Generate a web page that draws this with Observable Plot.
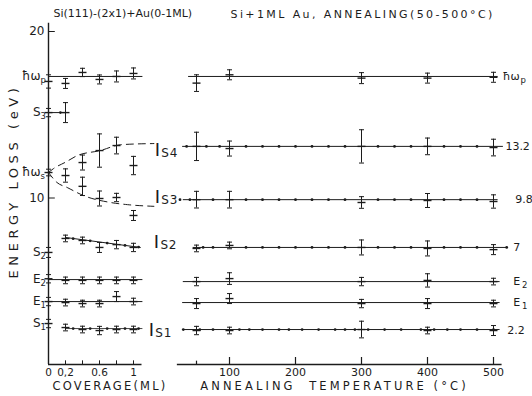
<!DOCTYPE html>
<html>
<head>
<meta charset="utf-8">
<script src="https://cdn.jsdelivr.net/npm/d3@7"></script>
<script src="https://cdn.jsdelivr.net/npm/@observablehq/plot@0.6"></script>
<style>
  body { margin: 0; background: #fff; }
  #wrap { position: relative; width: 532px; height: 396px; overflow: hidden; background: #fff; }
  #wrap svg { position: absolute; top: 0; }
</style>
</head>
<body>
<div id="wrap"></div>
<script>
// ---------- texts ----------
const titleLeft = "Si(111)-(2x1)+Au(0-1ML)";
const titleRight = "Si+1ML Au, ANNEALING(50-500°C)";
const yName = "ENERGY LOSS (eV)";
const xNameLeft = "COVERAGE(ML)";
const xNameRight = "ANNEALING  TEMPERATURE (°C)";

// ---------- energy axis ----------
const yTicks = [10, 20];
const yAxisTop = 20.5;
const levelNames = ["ħω", "S", "ħω", "S", "E", "E", "S"];
const levelSubs = ["p", "3", "s", "2", "2", "1", "1"];
const levelValues = [17.3, 15.13, 11.53, 6.73, 5.1, 3.78, 2.46];

// ---------- coverage panel ----------
const coverageExtent = [0, 1.1];
const coverageTicks = [0, 0.2, 0.4, 0.6, 0.8, 1];
const coverageLabelAt = [0, 0.2, 0.6, 1];
const coverageLabels = ["0", "0,2", "0.6", "1"];

const coverage = [0, 0.2, 0.4, 0.6, 0.8, 1.0];
const covWp = [17.0, 16.88, 17.54, 17.12, 17.3, 17.48];
const covWpErr = [0.4, 0.3, 0.25, 0.27, 0.33, 0.33];
const covS3X = [0, 0.2];
const covS3 = [15.13, 15.13];
const covS3Err = [0.25, 0.6];
const covWsX = [0];
const covWs = [11.53];
const covWsErr = [0.2];
const covIS4X = [0.2, 0.4, 0.6, 0.8, 1.0];
const covIS4 = [11.35, 12.13, 12.85, 13.15, 11.95];
const covIS4Err = [0.4, 0.45, 1.0, 0.5, 0.55];
const covIS3X = [0.4, 0.6, 0.8, 1.0];
const covIS3 = [10.7, 9.97, 10.03, 8.95];
const covIS3Err = [0.55, 0.45, 0.25, 0.3];
const covS2 = [6.73, 7.57, 7.45, 7.03, 7.2, 7.03];
const covS2Err = [0.3, 0.2, 0.2, 0.3, 0.25, 0.25];
const covE2 = [5.15, 5.05, 5.05, 5.05, 5.05, 5.05];
const covE2Err = [0.25, 0.2, 0.2, 0.2, 0.2, 0.2];
const covE1 = [3.78, 3.72, 3.66, 3.66, 4.08, 3.78];
const covE1Err = [0.25, 0.2, 0.2, 0.2, 0.3, 0.2];
const covS1 = [2.46, 2.22, 2.1, 2.04, 2.1, 2.1];
const covS1Err = [0.25, 0.2, 0.2, 0.25, 0.2, 0.2];

// guide lines (coverage panel)
const covWpLineX = [0, 1.1], covWpLineY = [17.3, 17.3];
const covS3LineX = [0, 0.2], covS3LineY = [15.13, 15.13];
const covIS4CurveX = [0, 0.06, 0.2, 0.34, 0.61, 0.85, 1.24];
const covIS4CurveY = [11.53, 11.77, 12.15, 12.55, 12.85, 13.2, 13.27];
const covIS3CurveX = [0, 0.1, 0.22, 0.41, 0.73, 0.93, 1.24];
const covIS3CurveY = [11.53, 10.93, 10.63, 10.15, 9.73, 9.6, 9.5];
const covS2LineX = [0.2, 1.08], covS2LineY = [7.63, 7.03];
const covE2LineX = [0, 1.1], covE2LineY = [5.1, 5.1];
const covE1LineX = [0, 1.1], covE1LineY = [3.78, 3.78];
const covS1LineX = [0.2, 1.1], covS1LineY = [2.16, 2.16];
const covS3DotX = [0.14], covS3DotY = [15.13];
const covS2DotX = [0.29, 0.49, 0.69, 0.9, 1.06], covS2DotY = [7.56, 7.43, 7.29, 7.15, 7.05];
const covS1DotX = [0.29, 0.49, 0.69, 0.9, 1.06], covS1DotY = [2.16, 2.16, 2.16, 2.16, 2.16];

// I_S labels between panels
const isNames = ["I", "I", "I", "I"];
const isSubs = ["S4", "S3", "S2", "S1"];
const isAt = [1.28, 1.28, 1.27, 1.21];
const isLevel = [12.88, 10.06, 7.33, 2.04];

// ---------- annealing panel ----------
const tempExtent = [21, 513];
const tempTicks = [50, 100, 200, 300, 400, 500];
const tempTickLen = [0.2, 0.42, 0.42, 0.42, 0.42, 0.42];
const tempLabels = [100, 200, 300, 400, 500];
const temps = [50, 100, 300, 400, 500];
const annWp = [16.9, 17.4, 17.2, 17.2, 17.25];
const annWpErr = [0.5, 0.3, 0.33, 0.3, 0.3];
const annIS4 = [13.1, 12.97, 13.1, 13.1, 13.03];
const annIS4Err = [0.85, 0.45, 1.0, 0.5, 0.5];
const annIS3 = [9.9, 9.9, 9.73, 9.85, 9.79];
const annIS3Err = [0.5, 0.5, 0.35, 0.42, 0.4];
const annIS2 = [6.97, 7.15, 7.03, 6.97, 6.9];
const annIS2Err = [0.2, 0.2, 0.45, 0.45, 0.3];
const annE2 = [4.98, 5.16, 4.98, 5.05, 4.98];
const annE2Err = [0.25, 0.35, 0.25, 0.4, 0.2];
const annE1 = [3.66, 3.96, 3.66, 3.66, 3.66];
const annE1Err = [0.3, 0.3, 0.25, 0.3, 0.2];
const annIS1 = [2.04, 2.04, 2.1, 2.04, 2.04];
const annIS1Err = [0.25, 0.2, 0.5, 0.2, 0.3];

const annLevels = [17.3, 13.1, 9.9, 7.03, 4.98, 3.72, 2.1];
const annLineStart = [38, 29, 30, 45, 30, 29, 30];
const annLineEnd = [507, 515, 507, 520, 510, 510, 510];
const annLabelText = ["ħω", "13.2", "9.8", "7", "E", "E", "2.2"];
const annLabelAt = [514, 518, 533, 530, 530, 530, 521];
const annLabelLevel = [17.3, 13.1, 9.9, 7.0, 4.98, 3.72, 2.05];
const annSubText = ["p", "2", "1"];
const annSubAt = [541, 543, 543];
const annSubLevel = [17.3, 4.98, 3.72];

const annIS4Dots = [35, 65, 85, 125, 150, 175, 200, 225, 250, 275, 325, 350, 375, 425, 450, 475];
const annIS3Dots = [25, 40, 75, 125, 150, 175, 200, 225, 250, 275, 325, 350, 375, 425, 450, 475];
const annIS2Dots = [60, 75, 125, 150, 175, 200, 225, 250, 275, 325, 350, 375, 425, 450, 475, 520];
const annIS1Dots = [30, 55, 75, 115, 130, 150, 175, 190, 210, 235, 260, 275, 290, 310, 335, 360, 390, 410, 430, 450, 475, 500];

// ---------- helpers ----------
const ink = "#1c1c1c";
const FONT = "'DejaVu Sans', sans-serif";
const hbar = { draw(ctx, size) { const r = Math.sqrt(size / Math.PI); ctx.moveTo(-r, 0); ctx.lineTo(r, 0); } };
const pts = (xs, vs, es) => xs.map((x, i) => ({ x, v: vs[i], e: es ? es[i] : 0 }));

function errorBars(xs, vs, es) {
  const data = pts(xs, vs, es);
  return [
    Plot.ruleX(data, { x: "x", y1: d => d.v - d.e, y2: d => d.v + d.e, stroke: ink, strokeWidth: 1 }),
    Plot.dot(data, { x: "x", y: d => d.v - d.e, symbol: hbar, r: 2.5, stroke: ink, fill: "none", strokeWidth: 1 }),
    Plot.dot(data, { x: "x", y: d => d.v + d.e, symbol: hbar, r: 2.5, stroke: ink, fill: "none", strokeWidth: 1 }),
    Plot.dot(data, { x: "x", y: "v", symbol: hbar, r: 4, stroke: ink, fill: "none", strokeWidth: 1.4 })
  ];
}
const seg = (xs, ys, opts = {}) => Plot.line(pts(xs, ys), { x: "x", y: "v", stroke: ink, strokeWidth: 1, ...opts });
const dots = (xs, ys) => Plot.dot(pts(xs, ys), { x: "x", y: "v", r: 1.4, fill: ink, stroke: "none" });

const common = {
  height: 396, marginTop: 31, marginBottom: 32,
  y: { domain: [0, 20], axis: null },
  style: { background: "transparent", overflow: "visible", fontFamily: FONT, color: ink }
};

// ---------- left panel ----------
const levelData = levelNames.map((n, i) => ({ n, s: levelSubs[i], v: levelValues[i] }));
const isData = isNames.map((n, i) => ({ n, s: isSubs[i], x: isAt[i], v: isLevel[i] }));
const covLabelData = coverageLabelAt.map((x, i) => ({ x, t: coverageLabels[i] }));

const left = Plot.plot({
  ...common,
  width: 180, marginLeft: 48, marginRight: 47,
  x: { domain: [0, 1], axis: null },
  marks: [
    Plot.ruleX([0], { y1: 0, y2: yAxisTop, stroke: ink, strokeWidth: 1.4 }),
    Plot.ruleY([0], { x1: coverageExtent[0], x2: coverageExtent[1], stroke: ink, strokeWidth: 1.4 }),
    Plot.ruleX(coverageTicks, { x: d => d, y1: 0, y2: 0.22, stroke: ink }),
    Plot.text(covLabelData, { x: "x", y: 0, text: "t", dy: 8, lineAnchor: "middle", fontSize: 10.5 }),
    Plot.ruleY(yTicks, { y: d => d, x1: 0, x2: 0.08, stroke: ink }),
    Plot.text(yTicks, { x: 0, y: d => d, text: d => String(d), textAnchor: "end", dx: -4, fontSize: 12, lineAnchor: "middle" }),
    Plot.text(levelData, { x: 0, y: "v", text: "n", textAnchor: "end", dx: -8, fontSize: 12, lineAnchor: "middle" }),
    Plot.text(levelData, { x: 0, y: "v", text: "s", textAnchor: "start", dx: -8, dy: 4, fontSize: 8.5, lineAnchor: "middle" }),
    // guide lines
    seg(covWpLineX, covWpLineY),
    seg(covS3LineX, covS3LineY),
    seg(covIS4CurveX, covIS4CurveY, { curve: "monotone-x", strokeDasharray: "7,5" }),
    seg(covIS3CurveX, covIS3CurveY, { curve: "monotone-x", strokeDasharray: "7,5" }),
    seg(covS2LineX, covS2LineY),
    seg(covE2LineX, covE2LineY),
    seg(covE1LineX, covE1LineY),
    seg(covS1LineX, covS1LineY, { strokeWidth: 0.8 }),
    dots(covS3DotX, covS3DotY),
    dots(covS2DotX, covS2DotY),
    dots(covS1DotX, covS1DotY),
    // data
    ...errorBars(coverage, covWp, covWpErr),
    ...errorBars(covS3X, covS3, covS3Err),
    ...errorBars(covWsX, covWs, covWsErr),
    ...errorBars(covIS4X, covIS4, covIS4Err),
    ...errorBars(covIS3X, covIS3, covIS3Err),
    ...errorBars(coverage, covS2, covS2Err),
    ...errorBars(coverage, covE2, covE2Err),
    ...errorBars(coverage, covE1, covE1Err),
    ...errorBars(coverage, covS1, covS1Err),
    // I_S labels
    Plot.text(isData, { x: "x", y: "v", text: "n", fontSize: 18, lineAnchor: "middle" }),
    Plot.text(isData, { x: "x", y: "v", text: "s", textAnchor: "start", dx: 4, dy: 3, fontSize: 12, lineAnchor: "middle" }),
    // titles
    Plot.text([titleLeft], { frameAnchor: "top-left", dx: 5, dy: -18, textAnchor: "start", lineAnchor: "middle", fontSize: 11 }),
    Plot.text([xNameLeft], { frameAnchor: "bottom", dx: 19, dy: 22, textAnchor: "middle", lineAnchor: "middle", fontSize: 11.5 }),
    Plot.text([yName], { frameAnchor: "left", dx: -35, dy: -17, rotate: -90, textAnchor: "middle", lineAnchor: "middle", fontSize: 13 })
  ]
});

// ---------- right panel ----------
const annLineData = annLevels.map((v, i) => ({ v, a: annLineStart[i], b: annLineEnd[i] }));
const annLabelData = annLabelText.map((t, i) => ({ t, x: annLabelAt[i], v: annLabelLevel[i] }));
const annSubData = annSubText.map((t, i) => ({ t, x: annSubAt[i], v: annSubLevel[i] }));

const right = Plot.plot({
  ...common,
  width: 362, marginLeft: 59, marginRight: 39,
  x: { domain: [100, 500], axis: null },
  marks: [
    Plot.ruleY([0], { x1: tempExtent[0], x2: tempExtent[1], stroke: ink, strokeWidth: 1.4 }),
    Plot.ruleX(tempTicks, { x: d => d, y1: 0, y2: (d, i) => tempTickLen[i], stroke: ink, strokeWidth: 1.2 }),
    Plot.text(tempLabels, { x: d => d, y: 0, text: d => String(d), dy: 8, lineAnchor: "middle", fontSize: 11 }),
    Plot.ruleY(annLineData, { y: "v", x1: "a", x2: "b", stroke: ink, strokeWidth: 1 }),
    dots(annIS4Dots, annIS4Dots.map(() => annLevels[1])),
    dots(annIS3Dots, annIS3Dots.map(() => annLevels[2])),
    dots(annIS2Dots, annIS2Dots.map(() => annLevels[3])),
    dots(annIS1Dots, annIS1Dots.map(() => annLevels[6])),
    ...errorBars(temps, annWp, annWpErr),
    ...errorBars(temps, annIS4, annIS4Err),
    ...errorBars(temps, annIS3, annIS3Err),
    ...errorBars(temps, annIS2, annIS2Err),
    ...errorBars(temps, annE2, annE2Err),
    ...errorBars(temps, annE1, annE1Err),
    ...errorBars(temps, annIS1, annIS1Err),
    Plot.text(annLabelData, { x: "x", y: "v", text: "t", textAnchor: "start", fontSize: 11, lineAnchor: "middle" }),
    Plot.text(annSubData, { x: "x", y: "v", text: "t", textAnchor: "start", dy: 4, fontSize: 8.5, lineAnchor: "middle" }),
    Plot.text([titleRight], { frameAnchor: "top-left", dx: 1, dy: -17, textAnchor: "start", lineAnchor: "middle", fontSize: 11 }),
    Plot.text([xNameRight], { frameAnchor: "bottom", dx: -27, dy: 22, textAnchor: "middle", lineAnchor: "middle", fontSize: 11.5 })
  ]
});

// letter spacing of the lettered labels (typewriter-like spacing of the original)
const spacing = new Map([
  [xNameLeft, "2.2px"], [xNameRight, "3.1px"], [yName, "4.6px"],
  [titleRight, "2.4px"], ["S4", "0.8px"], ["S3", "0.8px"], ["S2", "0.8px"], ["S1", "0.8px"]
]);
for (const svg of [left, right]) {
  d3.select(svg).selectAll("text").each(function () {
    const s = spacing.get(this.textContent);
    if (s) this.style.letterSpacing = s;
  });
}

left.style.left = "0px";
right.style.left = "170px";
document.getElementById("wrap").append(left, right);
</script>
</body>
</html>
